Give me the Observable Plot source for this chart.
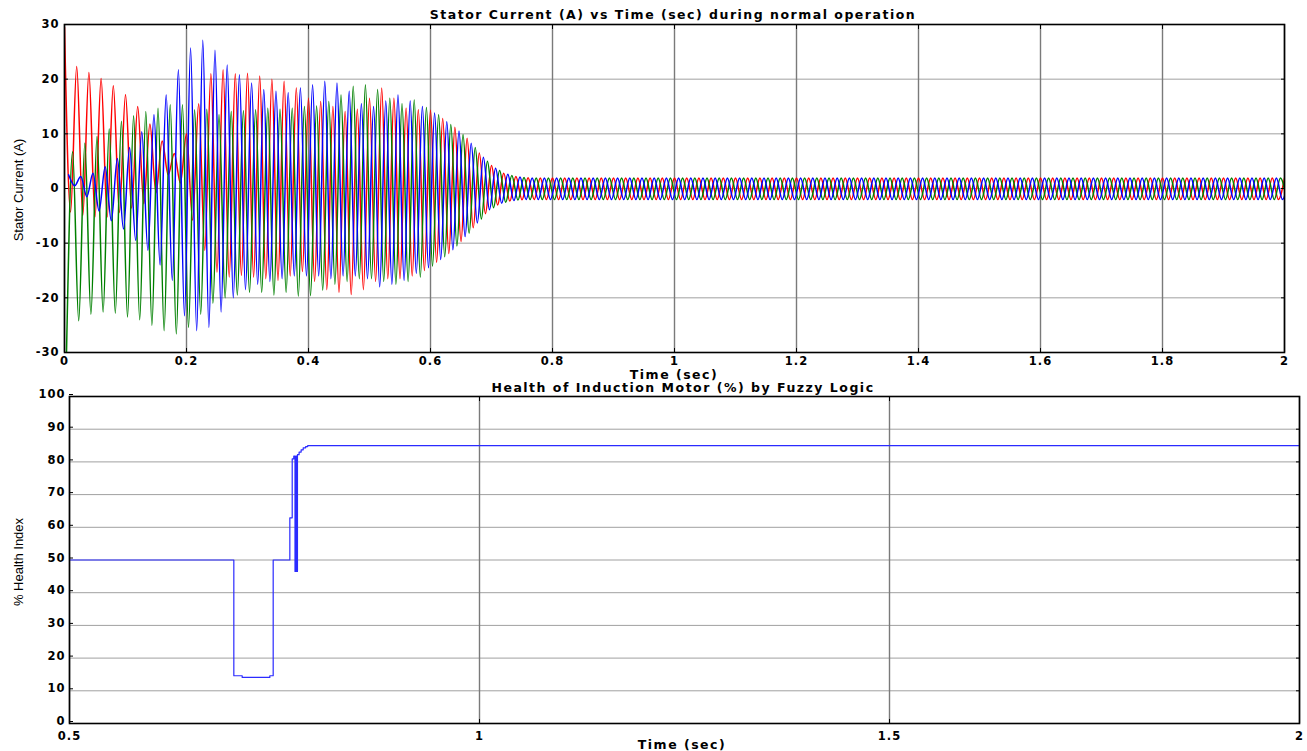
<!DOCTYPE html>
<html>
<head>
<meta charset="utf-8">
<script src="https://cdn.jsdelivr.net/npm/d3@7"></script>
<script src="https://cdn.jsdelivr.net/npm/@observablehq/plot@0.6"></script>
<style>
  body { margin: 0; background: #fff; }
  #wrap { position: relative; width: 1307px; height: 751px; overflow: hidden; background: #fff; }
  #top, #bot { position: absolute; left: 0; }
  .t { position: absolute; font-family: "DejaVu Sans", "Liberation Sans", sans-serif; font-weight: bold;
       font-size: 12.5px; letter-spacing: 1.5px; white-space: nowrap; transform: translate(-50%, -50%); color: #000; }
  .yl { position: absolute; font-family: "Liberation Sans Narrow", "Liberation Sans", Arial, sans-serif;
        font-size: 13px; white-space: nowrap; transform: translate(-50%, -50%) rotate(-90deg); color: #000; }
</style>
</head>
<body>
<div id="wrap">
  <div id="top" style="top:0px"></div>
  <div id="bot" style="top:380px"></div>
  <div class="t" style="left:673px; top:14px">Stator Current (A) vs Time (sec) during normal operation</div>
  <div class="t" style="left:674px; top:374px">Time (sec)</div>
  <div class="t" style="left:683px; top:387px">Health of Induction Motor (%) by Fuzzy Logic</div>
  <div class="t" style="left:682px; top:744px">Time (sec)</div>
  <div class="yl" style="left:18px; top:190px">Stator Current (A)</div>
  <div class="yl" style="left:18px; top:562px">% Health Index</div>
</div>
<script>
// ---------------- data ----------------
// Top panel: successive peaks/troughs (A) of each phase current,
// one extreme every half cycle of the 50 Hz supply.
const halfPeriod = 0.01;          // s between successive extremes
const redStart = 0.0;             // time of first red extreme (a peak)
const blueStart = 0.0067;         // time of first blue extreme (a peak)
const greenStart = 0.0033;        // time of first green extreme (a trough)

const redExtremes = [
  29.5,-4.3, 22.3,-4.9, 21.2,-5.2, 20.1,-5.2, 18.8,-4.4, 17.2,-3.6, 15.0,-2.8, 11.8,-0.8, 8.7,2.5, 6.4,1.0,
  10.0,-5.8, 15.5,-11.3, 21.0,-15.3, 21.7,-16.2, 21.0,-15.9, 21.1,-16.2, 20.6,-16.5, 20.0,-16.8, 19.6,-16.0, 18.4,-15.2,
  16.5,-17.0, 15.9,-18.5, 15.0,-19.0, 14.1,-19.4, 14.5,-18.5, 16.5,-17.0, 18.4,-16.5, 16.5,-16.5, 14.7,-16.0, 14.4,-15.0,
  14.3,-13.5, 12.8,-11.9, 11.2,-9.7, 9.2,-7.2, 6.5,-4.6, 4.2,-3.0, 2.8,-2.3, 2.2,-2.05, 1.95,-2.0, 1.9,-2.0,
  1.9,-2.0, 1.9,-2.0, 1.9,-2.0, 1.9,-2.0, 1.9,-2.0, 1.9,-2.0, 1.9,-2.0, 1.9,-2.0, 1.9,-2.0, 1.9,-2.0,
  1.9,-2.0, 1.9,-2.0, 1.9,-2.0, 1.9,-2.0, 1.9,-2.0, 1.9,-2.0, 1.9,-2.0, 1.9,-2.0, 1.9,-2.0, 1.9,-2.0,
  1.9,-2.0, 1.9,-2.0, 1.9,-2.0, 1.9,-2.0, 1.9,-2.0, 1.9,-2.0, 1.9,-2.0, 1.9,-2.0, 1.9,-2.0, 1.9,-2.0,
  1.9,-2.0, 1.9,-2.0, 1.9,-2.0, 1.9,-2.0, 1.9,-2.0, 1.9,-2.0, 1.9,-2.0, 1.9,-2.0, 1.9,-2.0, 1.9,-2.0,
  1.9,-2.0, 1.9,-2.0, 1.9,-2.0, 1.9,-2.0, 1.9,-2.0, 1.9,-2.0, 1.9,-2.0, 1.9,-2.0, 1.9,-2.0, 1.9,-2.0,
  1.9,-2.0, 1.9,-2.0, 1.9,-2.0, 1.9,-2.0, 1.9,-2.0, 1.9,-2.0, 1.9,-2.0, 1.9,-2.0, 1.9,-2.0, 1.9,-2.0,
  1.9
];

const blueExtremes = [
  2.5,0.5, 2.2,-1.5, 2.8,-4.1, 4.0,-5.9, 5.5,-7.4, 7.5,-9.5, 10.4,-11.3, 13.5,-14.0, 17.1,-16.8, 21.7,-23.3,
  25.7,-26.0, 27.1,-25.4, 25.3,-22.6, 22.6,-20.0, 20.8,-18.5, 19.3,-17.5, 18.1,-17.0, 17.8,-16.5, 17.5,-16.0, 18.4,-16.0,
  19.0,-16.0, 19.6,-16.5, 19.3,-16.0, 17.8,-16.0, 15.5,-16.5, 15.0,-18.0, 16.0,-17.5, 17.1,-16.8, 16.0,-15.5, 15.0,-14.5,
  13.8,-13.0, 12.2,-11.2, 10.5,-8.8, 8.3,-6.3, 5.7,-3.9, 3.7,-2.7, 2.6,-2.2, 2.1,-2.0, 1.9,-2.0, 1.9,-2.0,
  1.9,-2.0, 1.9,-2.0, 1.9,-2.0, 1.9,-2.0, 1.9,-2.0, 1.9,-2.0, 1.9,-2.0, 1.9,-2.0, 1.9,-2.0, 1.9,-2.0,
  1.9,-2.0, 1.9,-2.0, 1.9,-2.0, 1.9,-2.0, 1.9,-2.0, 1.9,-2.0, 1.9,-2.0, 1.9,-2.0, 1.9,-2.0, 1.9,-2.0,
  1.9,-2.0, 1.9,-2.0, 1.9,-2.0, 1.9,-2.0, 1.9,-2.0, 1.9,-2.0, 1.9,-2.0, 1.9,-2.0, 1.9,-2.0, 1.9,-2.0,
  1.9,-2.0, 1.9,-2.0, 1.9,-2.0, 1.9,-2.0, 1.9,-2.0, 1.9,-2.0, 1.9,-2.0, 1.9,-2.0, 1.9,-2.0, 1.9,-2.0,
  1.9,-2.0, 1.9,-2.0, 1.9,-2.0, 1.9,-2.0, 1.9,-2.0, 1.9,-2.0, 1.9,-2.0, 1.9,-2.0, 1.9,-2.0, 1.9,-2.0,
  1.9,-2.0, 1.9,-2.0, 1.9,-2.0, 1.9,-2.0, 1.9,-2.0, 1.9,-2.0, 1.9,-2.0, 1.9,-2.0, 1.9,-2.0, 1.9,-2.0,
  1.9
];

const greenExtremes = [
  -30.0,6.7, -24.2,8.3, -23.0,9.5, -22.6,10.9, -22.8,12.3, -23.5,13.3, -24.0,14.1, -25.0,14.7, -26.0,15.3, -26.6,15.3,
  -25.4,14.4, -23.0,14.5, -21.0,13.5, -20.0,14.1, -19.5,14.2, -19.0,14.4, -19.0,14.7, -19.5,14.5, -19.0,14.7, -19.7,15.0,
  -19.6,15.1, -18.6,15.9, -17.5,17.1, -17.0,18.7, -16.5,19.0, -16.5,18.1, -17.0,16.5, -17.5,15.5, -17.0,16.2, -16.2,14.8,
  -14.2,13.5, -12.5,11.7, -10.5,9.9, -8.2,7.5, -5.6,5.0, -3.5,3.3, -2.5,2.4, -2.1,2.0, -2.0,1.9, -2.0,1.9,
  -2.0,1.9, -2.0,1.9, -2.0,1.9, -2.0,1.9, -2.0,1.9, -2.0,1.9, -2.0,1.9, -2.0,1.9, -2.0,1.9, -2.0,1.9,
  -2.0,1.9, -2.0,1.9, -2.0,1.9, -2.0,1.9, -2.0,1.9, -2.0,1.9, -2.0,1.9, -2.0,1.9, -2.0,1.9, -2.0,1.9,
  -2.0,1.9, -2.0,1.9, -2.0,1.9, -2.0,1.9, -2.0,1.9, -2.0,1.9, -2.0,1.9, -2.0,1.9, -2.0,1.9, -2.0,1.9,
  -2.0,1.9, -2.0,1.9, -2.0,1.9, -2.0,1.9, -2.0,1.9, -2.0,1.9, -2.0,1.9, -2.0,1.9, -2.0,1.9, -2.0,1.9,
  -2.0,1.9, -2.0,1.9, -2.0,1.9, -2.0,1.9, -2.0,1.9, -2.0,1.9, -2.0,1.9, -2.0,1.9, -2.0,1.9, -2.0,1.9,
  -2.0,1.9, -2.0,1.9, -2.0,1.9, -2.0,1.9, -2.0,1.9, -2.0,1.9, -2.0,1.9, -2.0,1.9, -2.0,1.9, -2.0,1.9,
  -2.0
];

const topXTicks = [0, 0.2, 0.4, 0.6, 0.8, 1, 1.2, 1.4, 1.6, 1.8, 2];
const topYTicks = [-30, -20, -10, 0, 10, 20, 30];

// Bottom panel: fuzzy health index (%) step trace
const healthTime  = [0.5, 0.7004, 0.7106, 0.7443, 0.7484, 0.7687, 0.7716, 0.7735, 0.7750, 0.7760, 0.7770, 0.7780, 0.7800, 0.7825, 0.7850, 0.7880, 0.7905, 2.0];
const healthValue = [50,  14.6,   14.1,   14.6,   50,     62.9,   80.9,   81.8,   46.5,   81.8,   46.5,   82.2,   83.0,   83.7,   84.3,   84.7,   85.0,   85.0];

const botXTicks = [0.5, 1, 1.5, 2];
const botYTicks = [0, 10, 20, 30, 40, 50, 60, 70, 80, 90, 100];

// ---------------- build tables ----------------
const toPoints = (start, values) => values.map((v, i) => ({t: start + i * halfPeriod, v}));
const redPts = toPoints(redStart, redExtremes);
const bluePts = toPoints(blueStart, blueExtremes);
const greenPts = toPoints(greenStart, greenExtremes);
const health = healthTime.map((t, i) => ({t, v: healthValue[i]}));

const fmt = d => String(d);
const blank = () => "";
const axisFont = {fontFamily: "'DejaVu Sans', 'Liberation Sans', sans-serif", fontWeight: "bold", fontSize: "11.5px", letterSpacing: "1px", background: "#fff", overflow: "visible", color: "#000"};

const topPlot = Plot.plot({
  width: 1307, height: 380,
  marginTop: 24, marginBottom: 28, marginLeft: 64, marginRight: 23,
  style: axisFont,
  x: {domain: [0, 2]},
  y: {domain: [-30, 30]},
  marks: [
    Plot.gridY(topYTicks, {stroke: "#a0a0a0", strokeOpacity: 1, strokeWidth: 1}),
    Plot.gridX(topXTicks, {stroke: "#7a7a7a", strokeOpacity: 1, strokeWidth: 1.4}),
    Plot.line(redPts, {x: "t", y: "v", stroke: "#ff0000", strokeWidth: 1.5, curve: "monotone-x", clip: true}),
    Plot.line(greenPts, {x: "t", y: "v", stroke: "#008000", strokeWidth: 1.5, curve: "monotone-x", clip: true}),
    Plot.line(bluePts, {x: "t", y: "v", stroke: "#0000ff", strokeWidth: 1.5, curve: "monotone-x", clip: true}),
    Plot.axisX(topXTicks, {anchor: "bottom", tickSize: -4, tickPadding: 8, tickFormat: fmt, label: null, fontSize: 11.5}),
    Plot.axisX(topXTicks, {anchor: "top", tickSize: -4, tickFormat: blank, label: null}),
    Plot.axisY(topYTicks, {anchor: "left", tickSize: -4, tickPadding: 9, tickFormat: fmt, label: null, fontSize: 11.5}),
    Plot.axisY(topYTicks, {anchor: "right", tickSize: -4, tickFormat: blank, label: null}),
    Plot.frame({stroke: "#000", strokeWidth: 1.6})
  ]
});
document.getElementById("top").append(topPlot);

const botPlot = Plot.plot({
  width: 1307, height: 371,
  marginTop: 16, marginBottom: 28, marginLeft: 69, marginRight: 8,
  style: axisFont,
  x: {domain: [0.5, 2]},
  y: {domain: [0, 100]},
  marks: [
    Plot.gridY(botYTicks, {stroke: "#a0a0a0", strokeOpacity: 1, strokeWidth: 1}),
    Plot.gridX(botXTicks, {stroke: "#7a7a7a", strokeOpacity: 1, strokeWidth: 1.4}),
    Plot.line(health, {x: "t", y: "v", stroke: "#2b2bff", strokeWidth: 1.2, curve: "step-after", clip: true}),
    Plot.axisX(botXTicks, {anchor: "bottom", tickSize: -4, tickPadding: 12, tickFormat: fmt, label: null, fontSize: 11.5}),
    Plot.axisX(botXTicks, {anchor: "top", tickSize: -4, tickFormat: blank, label: null}),
    Plot.axisY(botYTicks, {anchor: "left", tickSize: -4, tickPadding: 8, tickFormat: fmt, label: null, fontSize: 11.5, dy: -2}),
    Plot.axisY(botYTicks, {anchor: "right", tickSize: -4, tickFormat: blank, label: null}),
    Plot.frame({stroke: "#000", strokeWidth: 1.6})
  ]
});
document.getElementById("bot").append(botPlot);
</script>
</body>
</html>
